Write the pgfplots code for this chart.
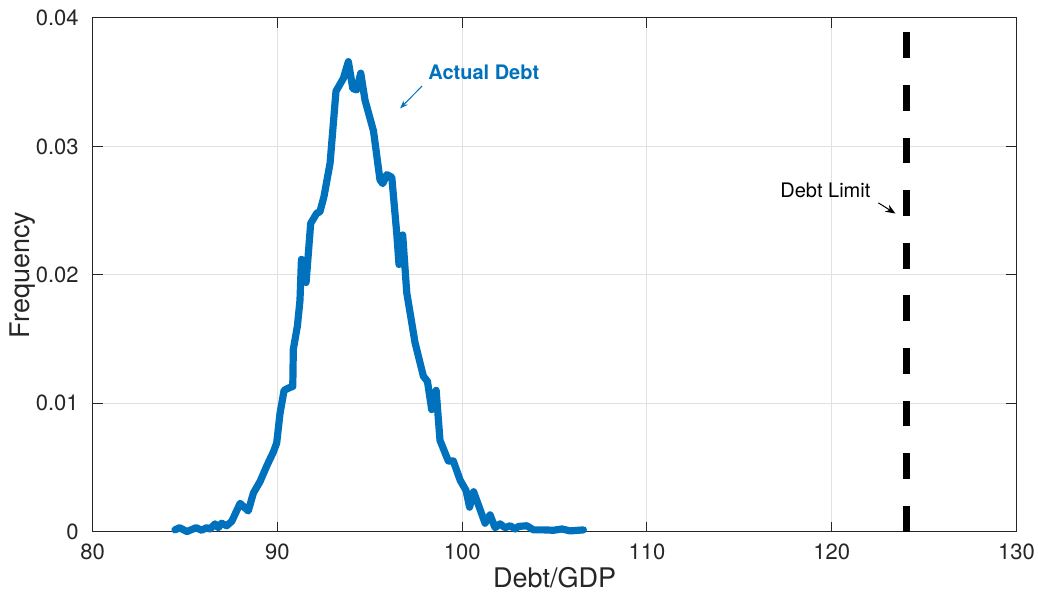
\documentclass[border=0pt]{standalone}
\usepackage{pgfplots}
\pgfplotsset{compat=1.18}
\usepackage{fontspec}
\setmainfont{TeX Gyre Heros}
\usetikzlibrary{arrows.meta}
\definecolor{mblue}{RGB}{0,114,189}
\definecolor{axgray}{RGB}{38,38,38}
\definecolor{gridgray}{RGB}{225,225,225}
\begin{document}
\begin{tikzpicture}
\begin{axis}[
  name=ax,
  scale only axis,
  width=461.9pt, height=256.8pt,
  xmin=80, xmax=130, ymin=0, ymax=0.04,
  scaled y ticks=false, scaled x ticks=false,
  xtick={80,90,100,110,120,130},
  xticklabels={80,90,100,110,120,130},
  ytick={0,0.01,0.02,0.03,0.04},
  yticklabels={0,0.01,0.02,0.03,0.04},
  tick align=inside,
  major tick length=5pt,
  tick style={axgray, line width=0.5pt},
  axis line style={axgray, line width=0.5pt},
  grid=major,
  major grid style={gridgray, line width=0.5pt},
  ticklabel style={font=\fontsize{11}{13}\selectfont, text=axgray},
  xticklabel style={yshift=-2.5pt},
  yticklabel style={xshift=-3.5pt},
  xlabel={Debt/GDP},
  ylabel={Frequency},
  label style={font=\fontsize{13.5}{16}\selectfont, text=axgray},
  x label style={at={(axis description cs:0.5,-0.0896)}, anchor=center},
  y label style={at={(axis description cs:-0.0764,0.5)}, anchor=center},
  clip=false,
]
\addplot[mblue, line width=3.6pt, line join=round, line cap=round] coordinates {
(84.45,0.00013) (84.7,0.0003) (85.1,0.0) (85.6,0.0003) (85.9,0.0001)
(86.17,0.0003) (86.35,0.0002) (86.62,0.0006) (86.8,0.0003) (86.98,0.00065)
(87.25,0.00045) (87.53,0.0008) (87.98,0.0022) (88.42,0.0016) (88.7,0.003)
(89.06,0.0039) (89.42,0.0051) (89.78,0.0062) (89.96,0.0069) (90.14,0.0092)
(90.36,0.011) (90.64,0.0112) (90.83,0.0113) (90.86,0.0142) (91.08,0.016)
(91.22,0.018) (91.3,0.0212) (91.55,0.0194) (91.8,0.024) (92.13,0.0248)
(92.3,0.0249) (92.52,0.0261) (92.85,0.0287) (93.17,0.0343) (93.57,0.0353)
(93.84,0.0366) (94.08,0.0345) (94.29,0.0344) (94.51,0.0357) (94.74,0.0336)
(95.2,0.0312) (95.55,0.0274) (95.7,0.0271) (95.92,0.0278) (96.19,0.0276)
(96.46,0.0232) (96.58,0.0208) (96.78,0.0231) (97.0,0.0186) (97.45,0.0147)
(97.9,0.0121) (98.12,0.0117) (98.35,0.0095) (98.59,0.011) (98.8,0.0071)
(99.25,0.0055) (99.52,0.0055) (99.89,0.004) (100.21,0.0032) (100.4,0.0019)
(100.62,0.0031) (101.24,0.00065) (101.51,0.0013) (101.78,0.0003) (102.05,0.0006)
(102.32,0.0003) (102.6,0.00045) (102.87,0.0002) (103.05,0.0004) (103.5,0.00045)
(103.86,0.00013) (104.4,0.00013) (104.94,0.0001) (105.4,0.0002) (105.84,0.00005)
(106.56,0.00013)
};
\addplot[black, line width=3.5pt, dash pattern=on 12.9pt off 13.4pt] coordinates {(124.07,0) (124.07,0.04)};
\node[anchor=west, text=mblue, font=\fontsize{10}{12}\selectfont\bfseries, inner sep=0pt] at (axis cs:98.15,0.0358) {Actual Debt};
\draw[mblue, line width=0.5pt, -{Stealth[length=4pt,width=3pt]}] (axis cs:97.83,0.0347) -- (axis cs:96.64,0.03296);
\node[anchor=west, text=black, font=\fontsize{10}{12}\selectfont, inner sep=0pt] at (axis cs:117.2,0.0266) {Debt Limit};
\draw[black, line width=0.5pt, -{Stealth[length=5pt,width=4pt]}] (axis cs:122.53,0.0256) -- (axis cs:123.45,0.02477);
\end{axis}
\pgfresetboundingbox
\useasboundingbox ([shift={(-46.35pt,-31.6pt)}]ax.south west) rectangle ([shift={(10.8pt,9pt)}]ax.north east);
\end{tikzpicture}
\end{document}
